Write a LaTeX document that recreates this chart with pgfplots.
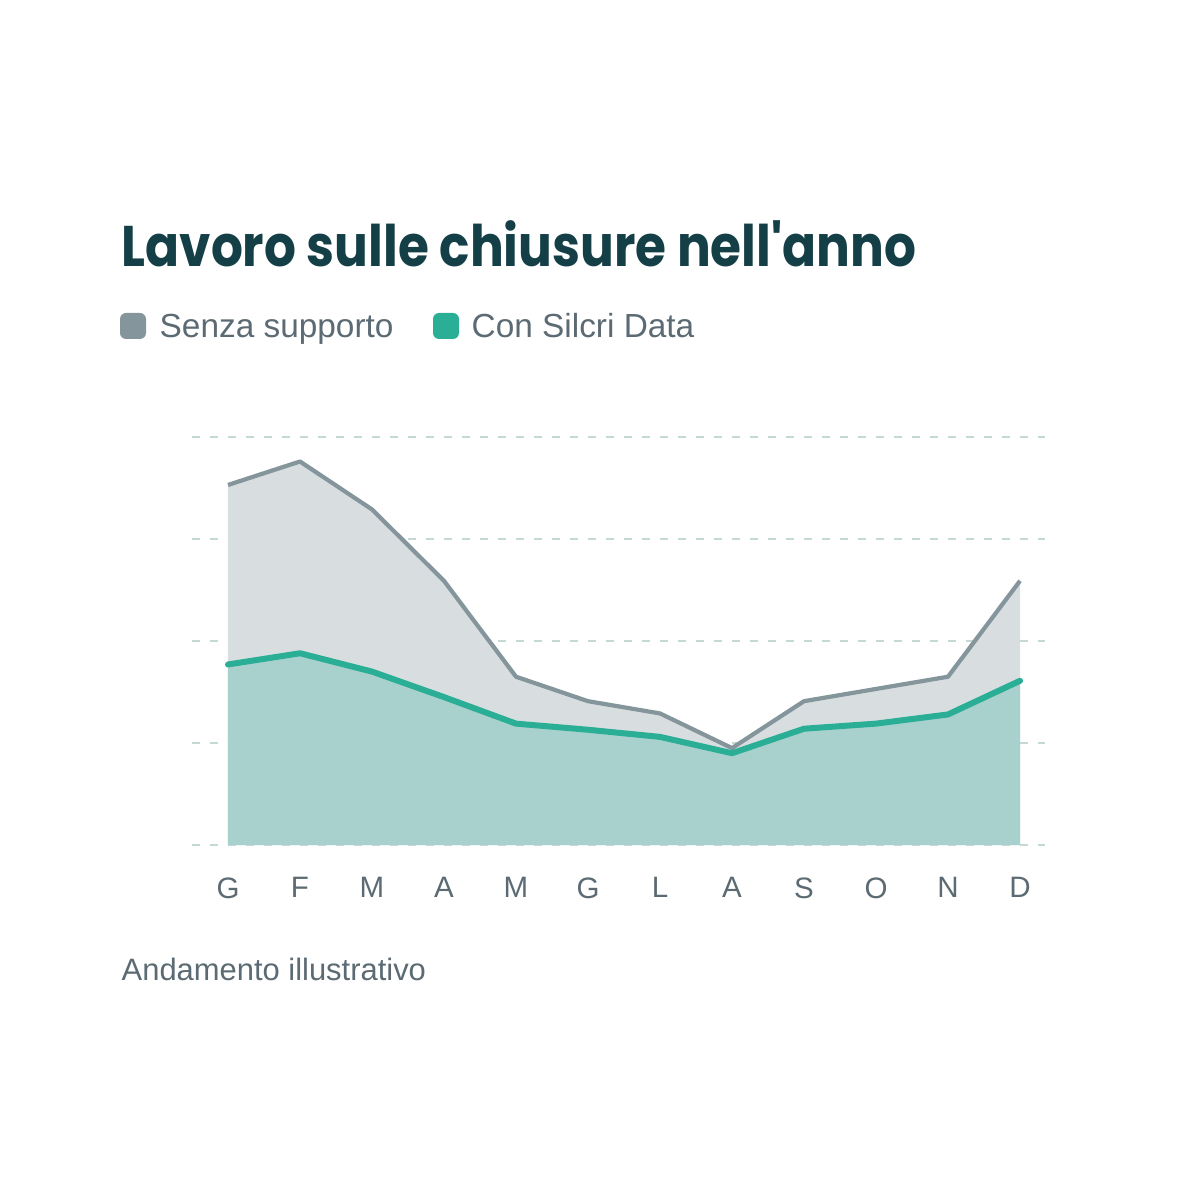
\documentclass[border=0pt]{standalone}
\usepackage{pgfplots}
\pgfplotsset{compat=1.18}
\usepackage{fontspec}
\setmainfont{Liberation Sans}
\newfontfamily\titlefont{Poppins}

\definecolor{titlecol}{HTML}{143F47}
\definecolor{textcol}{HTML}{5C6B73}
\definecolor{grayline}{HTML}{84959B}
\definecolor{grayfill}{HTML}{D8DEE0}
\definecolor{greenline}{HTML}{2AAE96}
\definecolor{greenfill}{HTML}{A8D1CD}
\definecolor{gridcol}{HTML}{C4D8D4}

\begin{document}
\begin{tikzpicture}
% page frame, 1 px = 0.1 mm
\path[use as bounding box] (0,0) rectangle (12,12);

\node[anchor=base west, inner sep=0, text=titlecol, font=\titlefont\bfseries\fontsize{16.3}{19}\selectfont]
  at (1.21,9.33) {\scalebox{0.875}[1]{Lavoro sulle chiusure nell'anno}};

\fill[grayline, rounded corners=0.6mm] (1.20,8.61) rectangle (1.46,8.87);
\node[anchor=base west, inner sep=0, text=textcol, font=\fontsize{9.5}{11}\selectfont]
  at (1.59,8.62) {Senza supporto};
\fill[greenline, rounded corners=0.6mm] (4.33,8.61) rectangle (4.59,8.87);
\node[anchor=base west, inner sep=0, text=textcol, font=\fontsize{9.5}{11}\selectfont]
  at (4.71,8.62) {Con Silcri Data};

\node[anchor=base west, inner sep=0, text=textcol, font=\fontsize{8.8}{10}\selectfont]
  at (1.21,2.19) {Andamento illustrativo};

\begin{axis}[
    at={(1.92cm,3.55cm)}, anchor=south west,
    scale only axis,
    width=8.53cm, height=4.08cm,
    xmin=-0.5, xmax=11.347,
    ymin=0, ymax=4,
    axis line style={draw=none},
    tick style={draw=none},
    ytick={0,1,2,3,4},
    yticklabel=\empty,
    ymajorgrids,
    grid style={gridcol, line width=0.2mm, dash pattern=on 0.8mm off 1mm},
    xtick={0,...,11},
    xticklabels={G,F,M,A,M,G,L,A,S,O,N,D},
    xticklabel style={text=textcol, font=\fontsize{8.4}{10}\selectfont, yshift=-2mm},
    clip=false,
]
\addplot[fill=grayfill, draw=none] coordinates {
  (0,3.53) (1,3.76) (2,3.29) (3,2.59) (4,1.65) (5,1.41)
  (6,1.29) (7,0.95) (8,1.41) (9,1.53) (10,1.65) (11,2.59)
} \closedcycle;
\addplot[grayline, line width=0.42mm, line join=round] coordinates {
  (0,3.53) (1,3.76) (2,3.29) (3,2.59) (4,1.65) (5,1.41)
  (6,1.29) (7,0.95) (8,1.41) (9,1.53) (10,1.65) (11,2.59)
};
\addplot[fill=greenfill, draw=none] coordinates {
  (0,1.77) (1,1.88) (2,1.70) (3,1.45) (4,1.19) (5,1.13)
  (6,1.06) (7,0.90) (8,1.14) (9,1.19) (10,1.28) (11,1.61)
} \closedcycle;
\addplot[greenline, line width=0.6mm, line join=round, line cap=round] coordinates {
  (0,1.77) (1,1.88) (2,1.70) (3,1.45) (4,1.19) (5,1.13)
  (6,1.06) (7,0.90) (8,1.14) (9,1.19) (10,1.28) (11,1.61)
};
\end{axis}
\end{tikzpicture}
\end{document}
